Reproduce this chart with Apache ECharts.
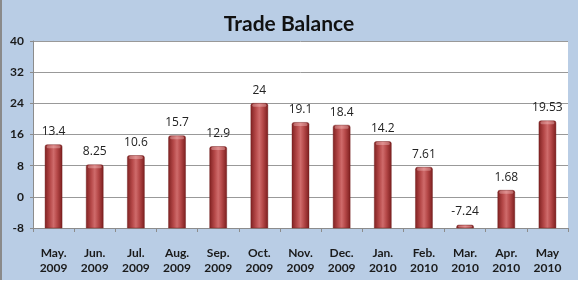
<!DOCTYPE html>
<html><head><meta charset="utf-8">
<script src="https://cdn.jsdelivr.net/npm/echarts@6/dist/echarts.min.js"></script>
<style>
html,body{margin:0;padding:0;background:#fff;}
#wrap{position:absolute;left:0;top:0;width:578px;height:280px;background:#B9CDE5;box-sizing:border-box;border-left:2px solid #8a8a8a;}
#c{position:absolute;left:0;top:0;width:578px;height:282px;}
</style></head>
<body>
<div id="wrap"></div>
<div id="c"></div>
<script>
const categories = ['May.\n2009','Jun.\n2009','Jul.\n2009','Aug.\n2009','Sep.\n2009','Oct.\n2009','Nov.\n2009','Dec.\n2009','Jan.\n2010','Feb.\n2010','Mar.\n2010','Apr.\n2010','May\n2010'];
const values = [13.4, 8.25, 10.6, 15.7, 12.9, 24, 19.1, 18.4, 14.2, 7.61, -7.24, 1.68, 19.53];
const valueLabels = ['13.4','8.25','10.6','15.7','12.9','24','19.1','18.4','14.2','7.61','-7.24','1.68','19.53'];
const yMin = -8, yMax = 40, yStep = 8;

const chart = echarts.init(document.getElementById('c'), null, {renderer:'canvas'});
const barFill = new echarts.graphic.LinearGradient(0,0,1,0,[
  {offset:0,color:'#802121'},
  {offset:0.3,color:'#b64949'},
  {offset:0.5,color:'#cf6b6b'},
  {offset:0.7,color:'#b64949'},
  {offset:1,color:'#7c1e1e'}
]);
chart.setOption({
  animation:false,
  backgroundColor:'transparent',
  title:{text:'Trade Balance',left:'center',top:9,
    textStyle:{fontFamily:'Lato',fontWeight:'bold',fontSize:21,color:'#111'}},
  grid:{left:33,right:10,top:41,bottom:54,show:true,backgroundColor:'#ffffff',borderWidth:0},
  xAxis:{type:'category',data:categories,
    axisLine:{onZero:false,lineStyle:{color:'#8c8c8c'}},
    axisTick:{show:true,length:4,lineStyle:{color:'#8c8c8c'}},
    axisLabel:{margin:18,fontFamily:'Lato',fontWeight:'bold',fontSize:12,color:'#1a1a1a',lineHeight:15}},
  yAxis:{type:'value',min:yMin,max:yMax,interval:yStep,
    axisLine:{show:true,lineStyle:{color:'#8c8c8c'}},
    axisTick:{show:true,length:3,lineStyle:{color:'#8c8c8c'}},
    splitLine:{lineStyle:{color:'#999999'}},
    axisLabel:{margin:9,fontFamily:'Lato',fontWeight:'bold',fontSize:12,color:'#1a1a1a'}},
  series:[{
    type:'custom',
    data:values.map((v,i)=>[i,v]),
    renderItem:function(params,api){
      const i = api.value(0), v = api.value(1);
      const top = api.coord([i,v]);
      const base = api.coord([i,yMin]);
      const w = 17;
      const h = base[1]-top[1];
      return {type:'group',children:[
        {type:'rect',shape:{x:top[0]-w/2,y:top[1],width:w,height:h,r:[2,2,0,0]},
          style:{fill:barFill,stroke:'#6a1818',lineWidth:0.4}},
        {type:'rect',shape:{x:top[0]-w/2+1.5,y:top[1]+0.5,width:w-3,height:Math.min(3,h-1),r:[1.5,1.5,1.5,1.5]},
          style:{fill:'rgba(255,215,215,0.35)'}},
        {type:'text',style:{text:valueLabels[params.dataIndex],x:top[0],y:top[1]-7,
          textAlign:'center',textVerticalAlign:'bottom',
          font:'12px "Open Sans"',fill:'#222'}}
      ]};
    }
  }]
});
</script>
</body></html>
